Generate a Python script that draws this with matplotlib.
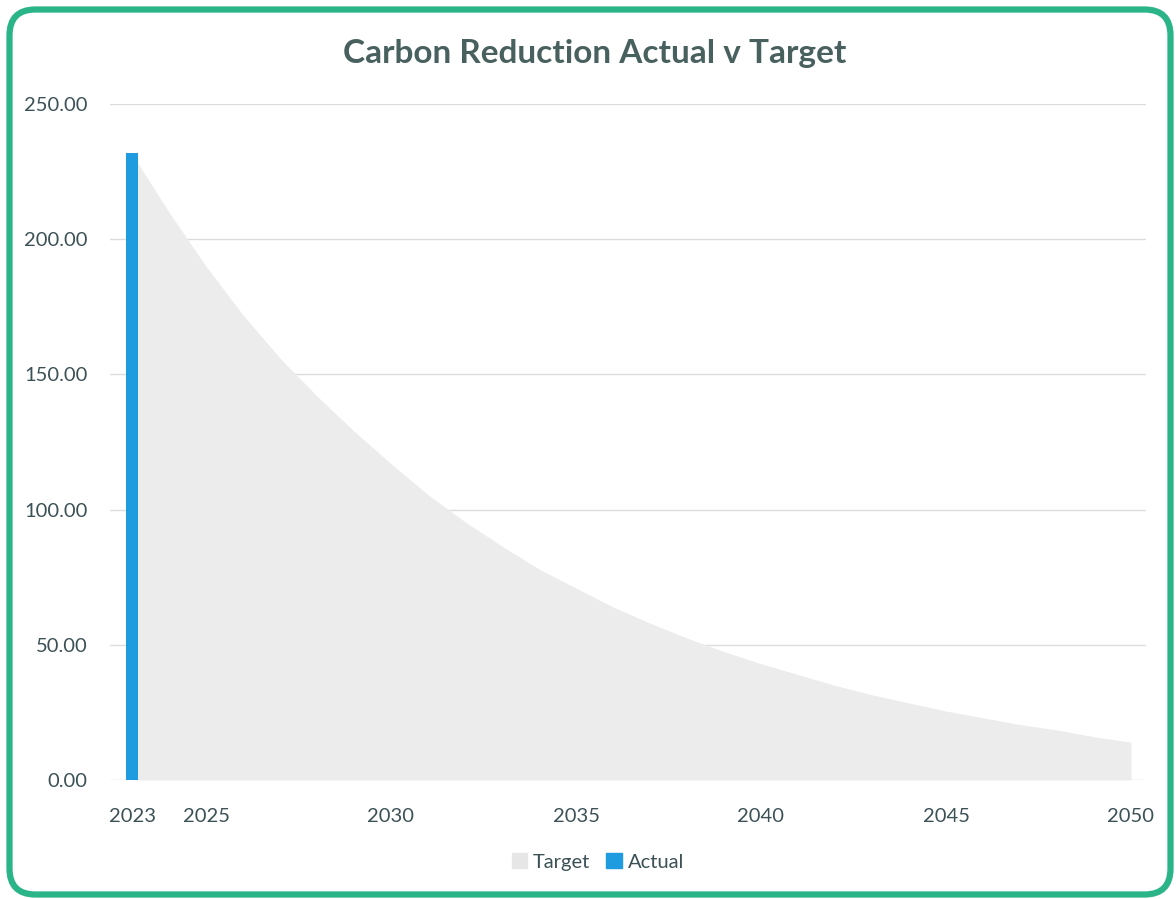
import matplotlib
matplotlib.use("Agg")
import matplotlib.pyplot as plt
from matplotlib.patches import FancyBboxPatch, Patch
import numpy as np

years = list(range(2023, 2051))
target = [231.5, 210, 190, 172, 156, 142, 129, 117, 105.5, 95.5, 86.5, 78, 71, 64,
          58, 52.5, 47.5, 43, 39, 35, 31.5, 28.5, 25.5, 23, 20.5, 18.5, 16, 14]
actual_years = [2023]
actual = [232]
tick_years = [2023, 2025, 2030, 2035, 2040, 2045, 2050]
y_ticks = [0, 50, 100, 150, 200, 250]
title = "Carbon Reduction Actual v Target"

plt.rcParams['font.family'] = ['Lato', 'DejaVu Sans']
text_col = '#3c5156'
blue = '#1f9be0'
grey_fill = '#ececec'
green = '#2cb489'

W, H = 1176, 899
fig = plt.figure(figsize=(W / 100, H / 100), dpi=100)

# background frame axes
bg = fig.add_axes([0, 0, 1, 1], zorder=-10)
bg.set_xlim(0, W)
bg.set_ylim(0, H)
bg.axis('off')
bg.add_patch(FancyBboxPatch((9.5, 4.5), 1161, 885, boxstyle="round,pad=0,rounding_size=26",
                            fill=False, ec=green, lw=4.5))

left_px, right_px = 110, 1146
bot_px, top_px = 780, 104
ax = fig.add_axes([left_px / W, 1 - bot_px / H, (right_px - left_px) / W, (bot_px - top_px) / H])
ax.set_facecolor('none')

ppy = 37.0
ax.set_xlim(2023 - (132 - left_px) / ppy, 2050 + (right_px - 1131) / ppy)
ax.set_ylim(0, 250)

ax.fill_between(years, target, 0, color=grey_fill, lw=0, zorder=2, label='Target')
ax.bar(actual_years, actual, width=13 / ppy, color=blue, zorder=3, label='Actual')

ax.set_yticks(y_ticks)
ax.set_yticklabels([f"{v:.2f}" for v in y_ticks])
ax.set_xticks(tick_years)
ax.set_xticklabels([str(y) for y in tick_years])
ax.tick_params(axis='both', length=0, labelsize=14.5, labelcolor=text_col)
ax.tick_params(axis='y', pad=16)
ax.tick_params(axis='x', pad=20)
for s in ax.spines.values():
    s.set_visible(False)
ax.grid(axis='y', color='#dcdcdc', lw=1, zorder=0)
ax.set_axisbelow(True)

fig.text(595 / W, 1 - 53 / H, title, ha='center', va='center', fontsize=24,
         fontweight='bold', color='#48615f')

handles = [Patch(color='#e6e6e6', label='Target'), Patch(color=blue, label='Actual')]
fig.legend(handles=handles, loc='center', bbox_to_anchor=(598 / W, 1 - 862 / H), ncol=2,
           frameon=False, fontsize=14.5, labelcolor=text_col, handlelength=0.75,
           handleheight=0.75, handletextpad=0.3, columnspacing=0.8)

fig.savefig('out.png', dpi=100)
